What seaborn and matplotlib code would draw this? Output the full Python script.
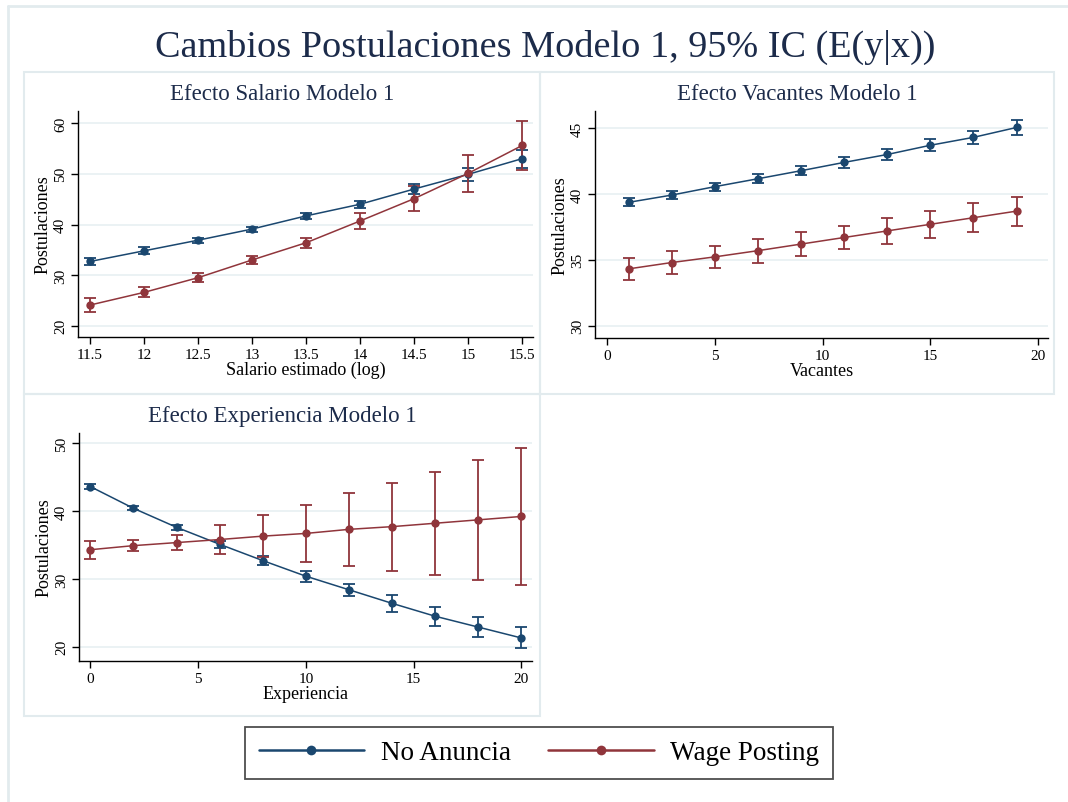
import numpy as np
import pandas as pd
import matplotlib
matplotlib.use("Agg")
import matplotlib.pyplot as plt
import seaborn as sns
from matplotlib.patches import Rectangle
from matplotlib.lines import Line2D

# ---------------- data ----------------
series_names = ["No Anuncia", "Wage Posting"]

salario_x = [11.5, 12, 12.5, 13, 13.5, 14, 14.5, 15, 15.5]
salario_no = [32.7, 34.8, 36.9, 39.1, 41.7, 44.0, 47.0, 49.9, 53.0]
salario_no_ci = [0.7, 0.7, 0.5, 0.5, 0.6, 0.7, 0.9, 1.3, 1.8]
salario_wp = [24.1, 26.6, 29.5, 33.0, 36.4, 40.7, 45.1, 50.1, 55.6]
salario_wp_ci = [1.3, 1.0, 0.9, 0.8, 1.0, 1.6, 2.5, 3.6, 4.8]
salario_ticks = [11.5, 12, 12.5, 13, 13.5, 14, 14.5, 15, 15.5]
salario_ticklabels = ["11.5", "12", "12.5", "13", "13.5", "14", "14.5", "15", "15.5"]

vac_x = [1, 3, 5, 7, 9, 11, 13, 15, 17, 19]
vac_no = [39.37, 39.92, 40.56, 41.16, 41.77, 42.4, 43.0, 43.7, 44.3, 45.05]
vac_no_ci = [0.3, 0.3, 0.3, 0.35, 0.35, 0.4, 0.4, 0.45, 0.5, 0.55]
vac_wp = [34.32, 34.8, 35.23, 35.7, 36.2, 36.7, 37.2, 37.7, 38.2, 38.7]
vac_wp_ci = [0.82, 0.86, 0.86, 0.9, 0.9, 0.9, 0.97, 1.03, 1.1, 1.1]

exp_x = [0, 2, 4, 6, 8, 10, 12, 14, 16, 18, 20]
exp_no = [43.6, 40.4, 37.6, 35.1, 32.7, 30.4, 28.4, 26.4, 24.5, 22.9, 21.3]
exp_no_ci = [0.4, 0.3, 0.4, 0.5, 0.7, 0.8, 0.9, 1.3, 1.4, 1.5, 1.55]
exp_wp = [34.3, 34.9, 35.35, 35.8, 36.3, 36.7, 37.3, 37.7, 38.2, 38.7, 39.2]
exp_wp_ci = [1.3, 0.86, 1.15, 2.2, 3.1, 4.2, 5.4, 6.5, 7.6, 8.8, 10.1]

main_title = "Cambios Postulaciones Modelo 1, 95% IC (E(y|x))"
panel_titles = ["Efecto Salario Modelo 1", "Efecto Vacantes Modelo 1", "Efecto Experiencia Modelo 1"]
x_labels = ["Salario estimado (log)", "Vacantes", "Experiencia"]
y_label = "Postulaciones"

# ---------------- style ----------------
sns.set_style("white")
plt.rcParams["font.family"] = ["Liberation Serif", "DejaVu Serif"]
plt.rcParams["text.color"] = "black"
plt.rcParams["axes.labelcolor"] = "black"

NAVY = "#1a476f"
MAROON = "#90353b"
GRID = "#e8f0f2"
FRAME = "#e2ebee"
palette = {series_names[0]: NAVY, series_names[1]: MAROON}

W, H = 1068, 803
fig = plt.figure(figsize=(W / 100, H / 100), dpi=100)
fig.patch.set_facecolor("white")


def px_axes(left, right, top, bottom):
    return fig.add_axes([left / W, 1 - bottom / H, (right - left) / W, (bottom - top) / H])


def draw_panel(ax, x, no, no_ci, wp, wp_ci):
    df = pd.DataFrame({
        "x": list(x) + list(x),
        "y": list(no) + list(wp),
        "serie": [series_names[0]] * len(x) + [series_names[1]] * len(x),
    })
    for name, yv, ci in [(series_names[0], no, no_ci), (series_names[1], wp, wp_ci)]:
        ax.errorbar(x, yv, yerr=ci, fmt="none", ecolor=palette[name],
                    elinewidth=1.3, capsize=4, capthick=1.3, zorder=2)
    sns.lineplot(data=df, x="x", y="y", hue="serie", palette=palette,
                 marker="o", markersize=6, markeredgewidth=0, linewidth=1.1,
                 errorbar=None, legend=False, ax=ax, zorder=3)
    ax.set_facecolor("white")
    for s in ["top", "right"]:
        ax.spines[s].set_visible(False)
    for s in ["left", "bottom"]:
        ax.spines[s].set_color("black")
        ax.spines[s].set_linewidth(1.0)
    ax.yaxis.grid(True, color=GRID, linewidth=1.2)
    ax.xaxis.grid(False)
    ax.set_axisbelow(True)
    ax.tick_params(axis="both", which="both", direction="out", length=5, width=1,
                   colors="black", labelsize=11, bottom=True, left=True, pad=3)
    ax.set_ylabel(y_label, fontsize=13, labelpad=2, color="black")


# panel frames
panels = [(24, 540, 73, 395), (540, 1054, 73, 395), (24, 540, 395, 717)]
for (l, r, t, b) in panels:
    fig.add_artist(Rectangle((l / W, 1 - b / H), (r - l) / W, (b - t) / H,
                             transform=fig.transFigure, fill=False,
                             edgecolor=FRAME, linewidth=1.5, zorder=0))
# outer frame
fig.add_artist(Line2D([8 / W, 8 / W], [0, 1 - 7 / H], transform=fig.transFigure, color=FRAME, lw=2))
fig.add_artist(Line2D([8 / W, 1], [1 - 7 / H, 1 - 7 / H], transform=fig.transFigure, color=FRAME, lw=2))

# Panel 1
ax1 = px_axes(78, 533, 112, 338)
draw_panel(ax1, salario_x, salario_no, salario_no_ci, salario_wp, salario_wp_ci)
ax1.set_xlim(11.39, 15.6)
ax1.set_ylim(17.8, 62.4)
ax1.set_yticks([20, 30, 40, 50, 60])
ax1.set_xticks(salario_ticks)
ax1.set_xticklabels(salario_ticklabels)
ax1.set_xlabel(x_labels[0], fontsize=13, labelpad=0)

# Panel 2
ax2 = px_axes(595, 1048, 112, 339)
draw_panel(ax2, vac_x, vac_no, vac_no_ci, vac_wp, vac_wp_ci)
ax2.set_xlim(-0.57, 20.46)
ax2.set_ylim(29.07, 46.3)
ax2.set_yticks([30, 35, 40, 45])
ax2.set_xticks([0, 5, 10, 15, 20])
ax2.set_xlabel(x_labels[1], fontsize=13, labelpad=0)

# Panel 3
ax3 = px_axes(79, 532, 434, 662)
draw_panel(ax3, exp_x, exp_no, exp_no_ci, exp_wp, exp_wp_ci)
ax3.set_xlim(-0.53, 20.5)
ax3.set_ylim(17.9, 51.5)
ax3.set_yticks([20, 30, 40, 50])
ax3.set_xticks([0, 5, 10, 15, 20])
ax3.set_xlabel(x_labels[2], fontsize=13, labelpad=0)

for ax in (ax1, ax2, ax3):
    for lab in ax.get_yticklabels():
        lab.set_rotation(90)
        lab.set_va("center")

# titles
TITLE_COLOR = "#1c2b4a"
fig.text(545 / W, 1 - 47 / H, main_title, ha="center", va="center", fontsize=27.5, color=TITLE_COLOR)
fig.text(282 / W, 1 - 94 / H, panel_titles[0], ha="center", va="center", fontsize=16.5, color=TITLE_COLOR)
fig.text(797 / W, 1 - 94 / H, panel_titles[1], ha="center", va="center", fontsize=16.5, color=TITLE_COLOR)
fig.text(282 / W, 1 - 417 / H, panel_titles[2], ha="center", va="center", fontsize=16.5, color=TITLE_COLOR)

# legend
handles = [Line2D([], [], color=NAVY, marker="o", markersize=7, markeredgewidth=0, lw=1.8),
           Line2D([], [], color=MAROON, marker="o", markersize=7, markeredgewidth=0, lw=1.8)]
leg = fig.legend(handles, series_names, loc="center", bbox_to_anchor=(539 / W, 1 - 754 / H),
                 ncol=2, fontsize=19.5, handlelength=3.9, handletextpad=0.6,
                 columnspacing=1.4, borderpad=0.5, frameon=True, fancybox=False,
                 labelcolor="black")
leg.get_frame().set_edgecolor("#222222")
leg.get_frame().set_linewidth(1.3)

fig.savefig("out.png", dpi=100, facecolor="white")
